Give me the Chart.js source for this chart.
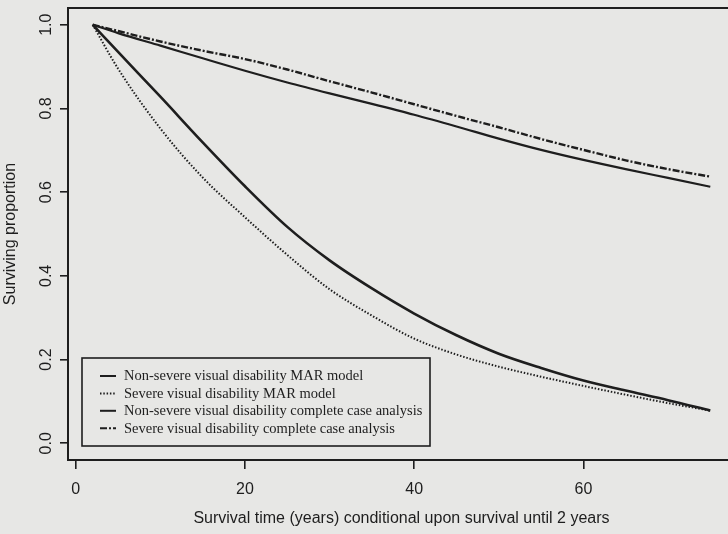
<!DOCTYPE html>
<html>
<head>
<meta charset="utf-8">
<script src="https://cdn.jsdelivr.net/npm/chart.js@4"></script>
<style>
  html, body { margin: 0; padding: 0; background: #e7e7e5; overflow: hidden; }
  #wrap { width: 728px; height: 534px; overflow: hidden; position: relative; }
  #c { position: absolute; left: 0; top: 0; background: #e7e7e5; }
</style>
</head>
<body>
<div id="wrap"><canvas id="c" width="742" height="534"></canvas></div>
<script>
// Survival time in years, conditional on survival until 2 years
const years = [2, 5, 10, 15, 20, 25, 30, 35, 40, 45, 50, 55, 60, 65, 70, 75];

// Surviving proportion for each group / method
const nonSevereMAR = [1.000, 0.935, 0.828, 0.719, 0.614, 0.517, 0.437, 0.370, 0.310, 0.258, 0.214, 0.180, 0.150, 0.126, 0.103, 0.078];
const severeMAR    = [1.000, 0.895, 0.752, 0.635, 0.540, 0.450, 0.368, 0.305, 0.250, 0.212, 0.183, 0.159, 0.137, 0.116, 0.096, 0.078];
const nonSevereCCA = [1.000, 0.980, 0.950, 0.920, 0.890, 0.862, 0.836, 0.811, 0.785, 0.757, 0.728, 0.701, 0.677, 0.655, 0.634, 0.613];
const severeCCA    = [1.000, 0.985, 0.960, 0.938, 0.918, 0.893, 0.865, 0.838, 0.810, 0.782, 0.755, 0.727, 0.701, 0.676, 0.655, 0.637];

const seriesLabels = [
  'Non-severe visual disability MAR model',
  'Severe visual disability MAR model',
  'Non-severe visual disability complete case analysis',
  'Severe visual disability complete case analysis'
];

const xTicks = [0, 20, 40, 60];
const yTicks = [0.0, 0.2, 0.4, 0.6, 0.8, 1.0];

const ink = '#1e1e1e';
const paper = '#e7e7e5';

const toPoints = arr => arr.map((v, i) => ({ x: years[i], y: v }));

const styles = [
  { borderWidth: 2.6, borderDash: [] },
  { borderWidth: 2.0, borderDash: [1.5, 1.8] },
  { borderWidth: 2.2, borderDash: [] },
  { borderWidth: 2.4, borderDash: [7, 2, 2, 2] }
];

const values = [nonSevereMAR, severeMAR, nonSevereCCA, severeCCA];

const datasets = values.map((arr, i) => ({
  label: seriesLabels[i],
  data: toPoints(arr),
  borderColor: ink,
  borderWidth: styles[i].borderWidth,
  borderDash: styles[i].borderDash,
  pointRadius: 0,
  fill: false,
  cubicInterpolationMode: 'monotone'
}));

// Frame around the plotting region
const framePlugin = {
  id: 'frame',
  afterDatasetsDraw(chart) {
    const { ctx, chartArea: a } = chart;
    ctx.save();
    ctx.strokeStyle = ink;
    ctx.lineWidth = 2;
    ctx.strokeRect(a.left, a.top, a.right - a.left, a.bottom - a.top);
    ctx.restore();
  }
};

// Boxed legend sitting inside the plot, bottom-left
const boxLegendPlugin = {
  id: 'boxLegend',
  afterDatasetsDraw(chart) {
    const { ctx } = chart;
    const left = 82, top = 358, right = 430, bottom = 446;
    ctx.save();
    ctx.fillStyle = paper;
    ctx.fillRect(left, top, right - left, bottom - top);
    ctx.strokeStyle = ink;
    ctx.lineWidth = 1.6;
    ctx.strokeRect(left, top, right - left, bottom - top);
    ctx.font = '14.5px "Liberation Serif", "Times New Roman", serif';
    ctx.textBaseline = 'middle';
    ctx.fillStyle = ink;
    chart.data.datasets.forEach((ds, i) => {
      const y = 376 + i * 17.4;
      ctx.beginPath();
      ctx.setLineDash(ds.borderDash || []);
      ctx.lineWidth = Math.min(ds.borderWidth, 2);
      ctx.strokeStyle = ink;
      ctx.moveTo(100, y);
      ctx.lineTo(116, y);
      ctx.stroke();
      ctx.setLineDash([]);
      ctx.fillText(ds.label, 124, y + 0.5);
    });
    ctx.restore();
  }
};

const sans = '"Liberation Sans", Arial, Helvetica, sans-serif';

new Chart(document.getElementById('c'), {
  type: 'line',
  data: { datasets },
  options: {
    responsive: false,
    animation: false,
    layout: { padding: { left: 0, top: 8, right: 7, bottom: 0 } },
    plugins: { legend: { display: false }, tooltip: { enabled: false } },
    scales: {
      x: {
        type: 'linear',
        min: -0.92,
        max: 77.92,
        afterBuildTicks: s => { s.ticks = xTicks.map(v => ({ value: v })); },
        afterFit: s => { s.height = 74; s.paddingLeft = 0; s.paddingRight = 0; },
        grid: { drawOnChartArea: false, drawTicks: true, tickLength: 9, color: ink, lineWidth: 1.6 },
        border: { display: true, color: ink, width: 2 },
        ticks: {
          color: ink,
          font: { family: sans, size: 16 },
          padding: 11,
          maxRotation: 0,
          autoSkip: false,
          callback: v => String(v)
        },
        title: {
          display: true,
          text: 'Survival time (years) conditional upon survival until 2 years',
          color: ink,
          font: { family: sans, size: 16 },
          padding: { top: 0, bottom: 6 }
        }
      },
      y: {
        type: 'linear',
        min: -0.04,
        max: 1.04,
        afterBuildTicks: s => { s.ticks = yTicks.map(v => ({ value: v })); },
        afterFit: s => { s.width = 68; s.paddingTop = 0; s.paddingBottom = 0; },
        grid: { drawOnChartArea: false, drawTicks: true, tickLength: 8, color: ink, lineWidth: 1.6 },
        border: { display: true, color: ink, width: 2 },
        ticks: {
          color: ink,
          font: { family: sans, size: 16 },
          padding: 2,
          minRotation: 90,
          maxRotation: 90,
          crossAlign: 'center',
          autoSkip: false,
          callback: v => v.toFixed(1)
        },
        title: {
          display: true,
          text: 'Surviving proportion',
          color: ink,
          font: { family: sans, size: 16 },
          padding: { top: 1, bottom: 0 }
        }
      }
    }
  },
  plugins: [framePlugin, boxLegendPlugin]
});
</script>
</body>
</html>
